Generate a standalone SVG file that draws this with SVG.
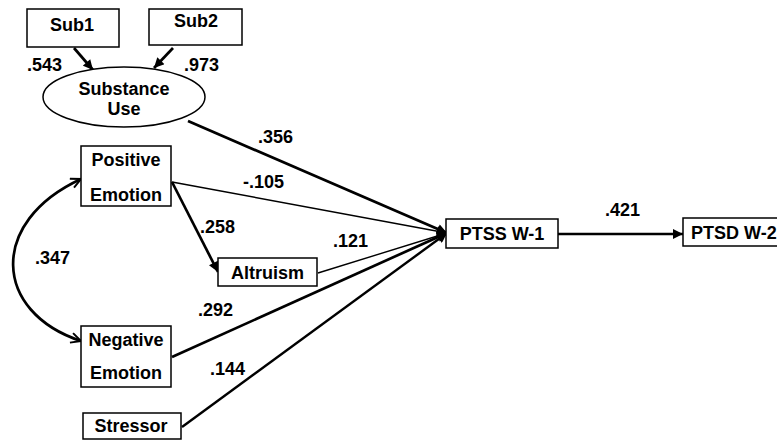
<svg xmlns="http://www.w3.org/2000/svg" width="777" height="440" viewBox="0 0 777 440">
<style>
text{font-family:"Liberation Sans",Arial,sans-serif;font-weight:bold;font-size:18px;fill:#000}
.c{text-anchor:middle}
.box{fill:#fff;stroke:#000;stroke-width:1.5}
.thick{stroke:#000;stroke-width:2.7;fill:none}
.thin{stroke:#000;stroke-width:1.4;fill:none}
.mid{stroke:#000;stroke-width:2.4;fill:none}
</style>
<defs>
<marker id="ah" viewBox="0 0 10 10" refX="10" refY="5" markerWidth="12" markerHeight="10" markerUnits="userSpaceOnUse" orient="auto">
<path d="M0,0 L10,5 L0,10 z" fill="#000"/>
</marker>
<marker id="oh" viewBox="0 0 12 12" refX="11" refY="6" markerWidth="12" markerHeight="12" markerUnits="userSpaceOnUse" orient="auto">
<path d="M1,1 L11,6 L1,11" fill="none" stroke="#000" stroke-width="2"/>
</marker>
<marker id="os" viewBox="0 0 12 12" refX="11" refY="6" markerWidth="12" markerHeight="12" markerUnits="userSpaceOnUse" orient="auto-start-reverse">
<path d="M1,1 L11,6 L1,11" fill="none" stroke="#000" stroke-width="2"/>
</marker>
</defs>
<g id="connectors">
<line class="thick" x1="74" y1="48" x2="93" y2="70" marker-end="url(#ah)"/>
<line class="thick" x1="173" y1="48" x2="154" y2="68" marker-end="url(#ah)"/>
<line class="thick" x1="188" y1="121" x2="447" y2="233" marker-end="url(#ah)"/>
<line class="thin" x1="172" y1="182" x2="447" y2="233" marker-end="url(#ah)"/>
<line class="thick" x1="172" y1="182" x2="218" y2="272" marker-end="url(#ah)"/>
<line class="thin" x1="318" y1="273" x2="447" y2="233" marker-end="url(#ah)"/>
<line class="thick" x1="172" y1="357" x2="447" y2="233" marker-end="url(#ah)"/>
<line class="mid" x1="182" y1="427" x2="447" y2="233" marker-end="url(#ah)"/>
<line class="mid" x1="558" y1="234" x2="683" y2="234" marker-end="url(#ah)"/>
<path class="thick" d="M81,179 C-12,222 -7,312 81,341" marker-start="url(#os)" marker-end="url(#oh)"/>
<text x="27" y="71">.543</text>
<text x="184" y="71">.973</text>
<text x="258" y="143">.356</text>
<text x="243" y="188">-.105</text>
<text x="200" y="233">.258</text>
<text x="333" y="247">.121</text>
<text x="198" y="316">.292</text>
<text x="210" y="375">.144</text>
<text x="35" y="264">.347</text>
<text x="605" y="216">.421</text>
</g>
<g id="sub1"><rect class="box" x="27" y="9" width="92" height="38"/><text class="c" x="72" y="31">Sub1</text></g>
<g id="sub2"><rect class="box" x="149" y="9" width="93" height="36"/><text class="c" x="196" y="27">Sub2</text></g>
<g id="substance"><ellipse class="box" cx="124" cy="97" rx="81" ry="30"/><text class="c" x="124" y="95">Substance</text><text class="c" x="124" y="115">Use</text></g>
<g id="positive"><rect class="box" x="81" y="146" width="90" height="60"/><text class="c" x="126" y="166">Positive</text><text class="c" x="126" y="201">Emotion</text></g>
<g id="altruism"><rect class="box" x="218" y="258" width="99" height="28"/><text class="c" x="267.5" y="279">Altruism</text></g>
<g id="negative"><rect class="box" x="81" y="326" width="90" height="61"/><text class="c" x="126" y="346">Negative</text><text class="c" x="126" y="379">Emotion</text></g>
<g id="stressor"><rect class="box" x="83" y="413" width="98" height="26"/><text class="c" x="131" y="432">Stressor</text></g>
<g id="ptss"><rect class="box" x="446" y="219" width="112" height="29"/><text class="c" x="502" y="240">PTSS W-1</text></g>
<g id="ptsd"><rect class="box" x="683" y="218" width="110" height="28"/><text x="691" y="239">PTSD W-2</text></g>
</svg>
